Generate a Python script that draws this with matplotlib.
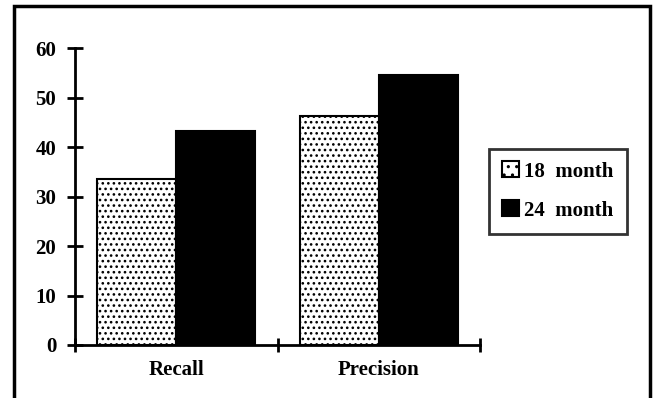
import matplotlib
matplotlib.use("Agg")
import matplotlib.pyplot as plt
from matplotlib.patches import Rectangle, Patch
import numpy as np

categories = ["Recall", "Precision"]
series_names = ["18  month", "24  month"]
vals_18 = [33.5, 46.3]
vals_24 = [43.3, 54.5]
yticks = [0, 10, 20, 30, 40, 50, 60]

plt.rcParams['font.family'] = ['Liberation Serif', 'DejaVu Serif']
plt.rcParams['font.weight'] = 'bold'
plt.rcParams['hatch.linewidth'] = 1.1

fig = plt.figure(figsize=(6.54, 3.98), dpi=100)
ax = fig.add_axes([75/654, 1-345/398, (480-75)/654, (345-48)/398])

x = np.arange(len(categories)) + 0.5
w = 0.39
ax.bar(x - w/2, vals_18, width=w, facecolor='white', edgecolor='black',
       hatch='...', linewidth=1.5, label=series_names[0])
ax.bar(x + w/2, vals_24, width=w, facecolor='black', edgecolor='black',
       linewidth=1.5, label=series_names[1])

ax.set_xlim(0, 2)
ax.set_ylim(0, 60)
ax.set_yticks(yticks)
ax.set_yticklabels([str(t) for t in yticks], fontsize=15, fontweight='bold')
ax.set_xticks([0, 1, 2])
ax.set_xticklabels([])
ax.set_xticks(x, minor=True)
ax.set_xticklabels(categories, minor=True, fontsize=15, fontweight='bold')
ax.tick_params(axis='x', which='minor', length=0, pad=11)
ax.tick_params(axis='x', which='major', direction='inout', length=10, width=2)
ax.tick_params(axis='y', direction='inout', length=11, width=2, pad=8)
for s in ['top', 'right']:
    ax.spines[s].set_visible(False)
for s in ['left', 'bottom']:
    ax.spines[s].set_linewidth(2)

# outer frame
fig.patches.append(Rectangle((14/654, -0.05), (650-14)/654, 1.05 - 6/398,
                             transform=fig.transFigure, fill=False,
                             edgecolor='black', linewidth=2.5))

handles = [Patch(facecolor='white', edgecolor='black', hatch='..', linewidth=1.5),
           Patch(facecolor='black', edgecolor='black', linewidth=1.5)]
leg = fig.legend(handles, series_names, loc='center',
                 bbox_to_anchor=(558/654, 1-191/398), frameon=True, fancybox=False,
                 prop={'family': 'Liberation Serif', 'weight': 'bold', 'size': 15},
                 handlelength=0.8, handleheight=0.8, handletextpad=0.25,
                 labelspacing=0.9, borderpad=0.62, borderaxespad=0,
                 edgecolor='black')
leg.get_frame().set_linewidth(2)

fig.savefig("out.png", dpi=100)
